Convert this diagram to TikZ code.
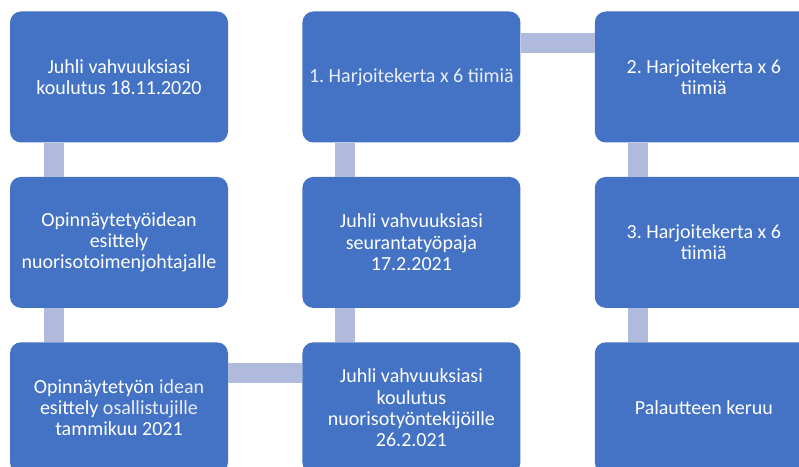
\documentclass[tikz,border=0pt]{standalone}
\usepackage{fontspec}
\setmainfont{Carlito}
\usepackage{tikz}
\usetikzlibrary{positioning}
\definecolor{laatikko}{HTML}{4472C4}
\definecolor{palkki}{HTML}{AFBADC}
\newcommand{\kevyt}[1]{\textcolor{white!88!laatikko}{#1}}
\frenchspacing

\begin{document}
\begin{tikzpicture}[x=1pt,y=1pt,node distance=34pt and 74pt,font=\fontsize{20}{21.3}\selectfont]

\tikzset{
vaihe/.style={
    fill=laatikko,
    rounded corners=11pt,
    minimum width=218pt,
    minimum height=131pt,
    align=center,
    text=white,
    inner sep=0pt
},
pystypalkki/.style={line width=20pt,color=palkki},
vaakapalkki/.style={line width=20pt,color=palkki}
}

\useasboundingbox (0,0) rectangle (799,466);
\clip (0,0) rectangle (799,466);

\node[vaihe] (koulutus) at (119,389) {Juhli vahvuuksiasi\\koulutus 18.11.2020};
\node[vaihe,below=of koulutus] (esittely) {Opinnäytetyöidean\\esittely\\nuorisotoimenjohtajalle};
\node[vaihe,below=of esittely] (osallistujat) {Opinnäytetyön \kevyt{idean}\\esittely \kevyt{osallistujille}\\tammikuu 2021};

\node[vaihe,right=of osallistujat] (tyontekijat) {Juhli vahvuuksiasi\\koulutus\\nuorisotyöntekijöille\\26.2.021};
\node[vaihe,above=of tyontekijat] (seuranta) {Juhli vahvuuksiasi\\seurantatyöpaja\\17.2.2021};
\node[vaihe,above=of seuranta] (harj1) {\kevyt{1. Harjoitekerta x 6 tiimiä}};

\node[vaihe,right=of harj1] (harj2) {2. Harjoitekerta x 6\\tiimiä};
\node[vaihe,below=of harj2] (harj3) {3. Harjoitekerta x 6\\tiimiä};
\node[vaihe,below=of harj3] (palaute) {Palautteen keruu};

% yhdyspalkit
\draw[pystypalkki] ([xshift=44pt]koulutus.south west) -- ([xshift=44pt]esittely.north west);
\draw[pystypalkki] ([xshift=44pt]esittely.south west) -- ([xshift=44pt]osallistujat.north west);
\draw[vaakapalkki] ([yshift=-31pt]osallistujat.north east) -- ([yshift=-31pt]tyontekijat.north west);
\draw[pystypalkki] ([xshift=43pt]tyontekijat.north west) -- ([xshift=43pt]seuranta.south west);
\draw[pystypalkki] ([xshift=43pt]seuranta.north west) -- ([xshift=43pt]harj1.south west);
\draw[vaakapalkki] ([yshift=-32pt]harj1.north east) -- ([yshift=-32pt]harj2.north west);
\draw[pystypalkki] ([xshift=43pt]harj2.south west) -- ([xshift=43pt]harj3.north west);
\draw[pystypalkki] ([xshift=43pt]harj3.south west) -- ([xshift=43pt]palaute.north west);

\end{tikzpicture}
\end{document}
